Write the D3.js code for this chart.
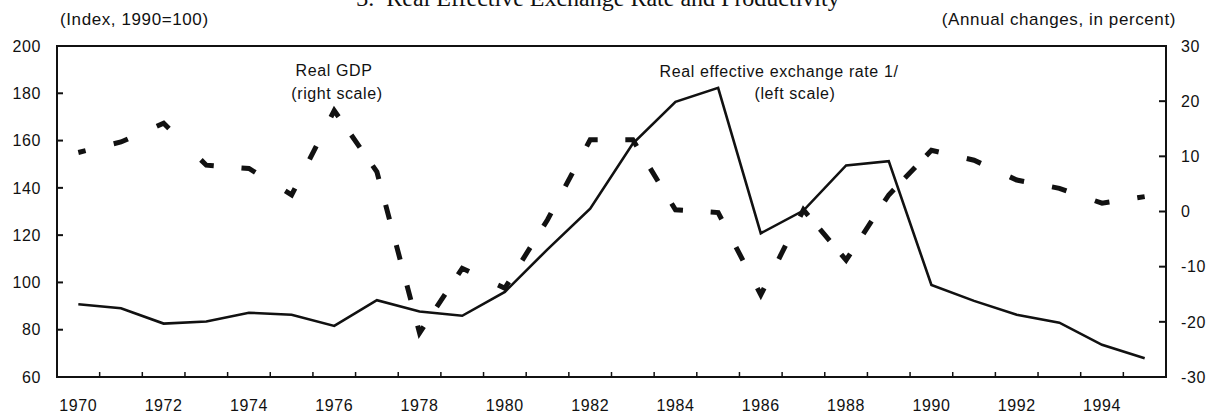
<!DOCTYPE html>
<html>
<head>
<meta charset="utf-8">
<script src="https://cdn.jsdelivr.net/npm/d3@7"></script>
<style>
  body { margin: 0; background: #fff; }
  svg { display: block; }
  text { font-family: "Liberation Sans", Arial, sans-serif; fill: #111; letter-spacing: 0.6px; }
</style>
</head>
<body>
<svg id="chart" width="1212" height="417"></svg>
<script>
// years on the x axis
const years = [1970, 1971, 1972, 1973, 1974, 1975, 1976, 1977, 1978, 1979, 1980, 1981, 1982,
    1983, 1984, 1985, 1986, 1987, 1988, 1989, 1990, 1991, 1992, 1993, 1994, 1995];
// real effective exchange rate, index 1990=100 (left scale)
const reer = [90.8, 89.1, 82.6, 83.5, 87.2, 86.3, 81.6, 92.5, 87.7, 85.9, 96.0, 114.0, 131.2,
    158.7, 176.4, 182.3, 120.8, 130.4, 149.5, 151.3, 98.9, 92.2, 86.3, 83.0, 73.6, 67.9];
// real GDP, annual change in percent (right scale)
const gdp = [10.7, 12.6, 16.0, 8.4, 7.8, 3.0, 18.3, 7.2, -22.0, -10.3, -13.9, -1.5, 13.0,
    13.0, 0.3, -0.2, -15.1, 0.3, -8.8, 3.0, 11.1, 9.3, 5.7, 4.2, 1.5, 2.7];
const leftTicks = [60, 80, 100, 120, 140, 160, 180, 200];
const rightTicks = [-30, -20, -10, 0, 10, 20, 30];
const yearLabels = [1970, 1972, 1974, 1976, 1978, 1980, 1982, 1984, 1986, 1988, 1990, 1992, 1994];

let plot = {left: 57, right: 1166, top: 46, bottom: 377};
let svg = d3.select("#chart");

let x = d3.scaleBand().domain(years).range([plot.left, plot.right]).paddingInner(0).paddingOuter(0);
let yL = d3.scaleLinear().domain([60, 200]).range([plot.bottom, plot.top]);
let yR = d3.scaleLinear().domain([-30, 30]).range([plot.bottom, plot.top]);
let cx = yr => x(yr) + x.bandwidth() / 2;

// title (cut off at the top of the page, as in the scan)
svg.append("text")
    .attr("x", 598).attr("y", 6)
    .attr("text-anchor", "middle")
    .style("font-family", "'Liberation Serif', 'Times New Roman', serif")
    .style("font-size", "24px")
    .style("letter-spacing", "0px")
    .text("3.\u00a0\u00a0Real Effective Exchange Rate and Productivity");

svg.append("text").attr("x", 60).attr("y", 25)
    .style("font-size", "17px").text("(Index, 1990=100)");
svg.append("text").attr("x", 1176).attr("y", 25).attr("text-anchor", "end")
    .style("font-size", "17px").text("(Annual changes, in percent)");

// frame
svg.append("rect")
    .attr("x", plot.left).attr("y", plot.top)
    .attr("width", plot.right - plot.left).attr("height", plot.bottom - plot.top)
    .attr("fill", "none").attr("stroke", "#111").attr("stroke-width", 2);

// left axis ticks + labels
let gl = svg.append("g");
gl.selectAll("line").data(leftTicks.slice(1, -1)).join("line")
    .attr("x1", plot.left).attr("x2", plot.left + 6)
    .attr("y1", d => yL(d)).attr("y2", d => yL(d))
    .attr("stroke", "#111").attr("stroke-width", 2);
gl.selectAll("text").data(leftTicks).join("text")
    .attr("x", 41).attr("y", d => yL(d)).attr("dy", "0.36em")
    .attr("text-anchor", "end").style("font-size", "16px")
    .text(d => d);

// right axis ticks + labels
let gr = svg.append("g");
gr.selectAll("line").data(rightTicks.slice(1, -1)).join("line")
    .attr("x1", plot.right - 7).attr("x2", plot.right)
    .attr("y1", d => yR(d)).attr("y2", d => yR(d))
    .attr("stroke", "#111").attr("stroke-width", 2);
gr.selectAll("text").data(rightTicks).join("text")
    .attr("x", 1181).attr("y", d => yR(d)).attr("dy", "0.36em")
    .style("font-size", "16px")
    .text(d => d);

// bottom ticks between years, labels every other year
let gb = svg.append("g");
gb.selectAll("line").data(years.slice(1)).join("line")
    .attr("x1", d => x(d)).attr("x2", d => x(d))
    .attr("y1", plot.bottom).attr("y2", plot.bottom - 5)
    .attr("stroke", "#111").attr("stroke-width", 1.5);
gb.selectAll("text").data(yearLabels).join("text")
    .attr("x", d => cx(d)).attr("y", 411)
    .attr("text-anchor", "middle").style("font-size", "16px")
    .text(d => d);

// real effective exchange rate, solid
let reerLine = d3.line().x((d, i) => cx(years[i])).y(d => yL(d));
svg.append("path").datum(reer)
    .attr("d", reerLine)
    .attr("fill", "none").attr("stroke", "#111").attr("stroke-width", 2.6)
    .attr("stroke-linejoin", "miter");

// real GDP, dashed -- dash pattern fitted per segment so a dash sits on each vertex
let gdpLine = d3.line().x((d, i) => cx(years[i])).y(d => yR(d));
let dash = 15, period = 40;
let pattern = [];
let carry = dash / 2;
for (let i = 1; i < gdp.length; i++) {
    let dx = cx(years[i]) - cx(years[i - 1]);
    let dy = yR(gdp[i]) - yR(gdp[i - 1]);
    let len = Math.sqrt(dx * dx + dy * dy);
    let n = Math.max(1, Math.round(len / period));
    let gap = len / n - dash;
    pattern.push(carry);
    for (let k = 0; k < n - 1; k++) {
        pattern.push(gap, dash);
    }
    pattern.push(gap);
    carry = dash;
    if (i === gdp.length - 1) pattern.push(dash / 2, 1000);
}
svg.append("path").datum(gdp)
    .attr("d", gdpLine)
    .attr("fill", "none").attr("stroke", "#111").attr("stroke-width", 5)
    .attr("stroke-dasharray", pattern.join(","))
    .attr("stroke-linejoin", "miter");

// annotations
let notes = [
    {x: 334, y: 76, t: "Real GDP"},
    {x: 337, y: 99, t: "(right scale)"},
    {x: 779, y: 77, t: "Real effective exchange rate 1/"},
    {x: 795, y: 99, t: "(left scale)"}
];
svg.selectAll("text.note").data(notes).join("text")
    .attr("class", "note")
    .attr("x", d => d.x).attr("y", d => d.y)
    .attr("text-anchor", "middle").style("font-size", "16px")
    .text(d => d.t);
</script>
</body>
</html>
